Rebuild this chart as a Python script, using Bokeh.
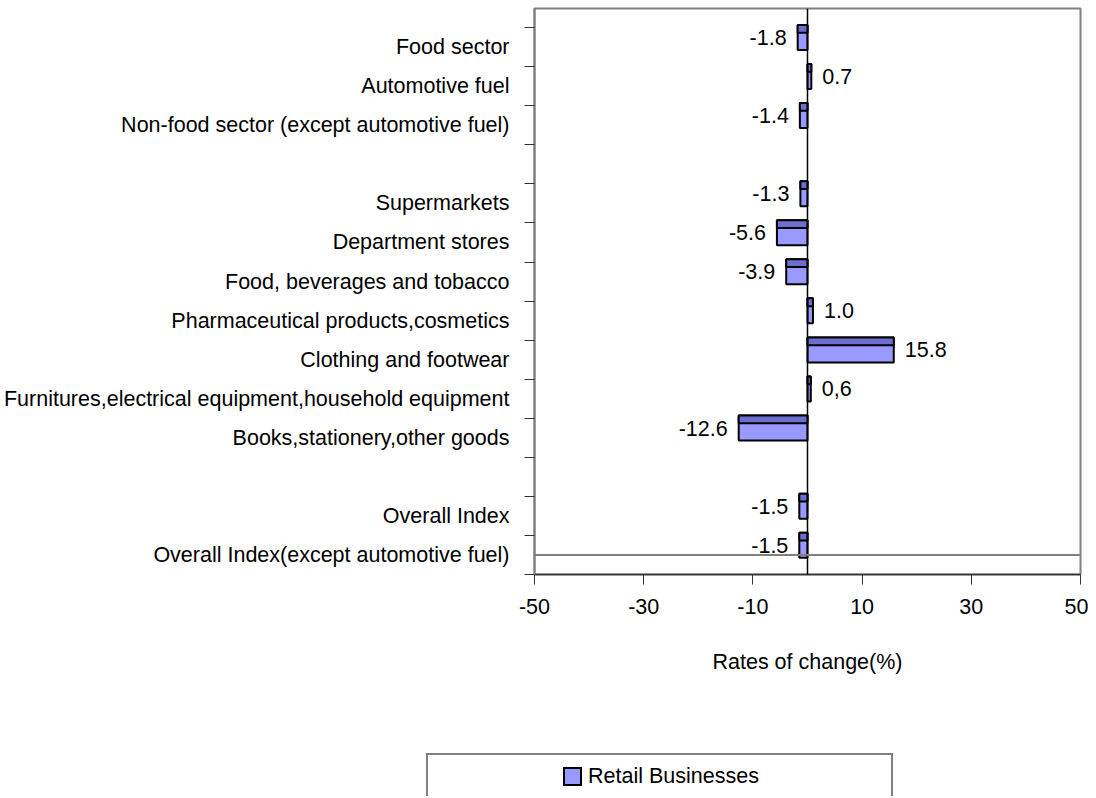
from bokeh.plotting import figure
from bokeh.layouts import column
from bokeh.models import Range1d, FixedTicker, Span, ColumnDataSource, Div
from bokeh.core.properties import value
from bokeh.embed import file_html
from bokeh.resources import INLINE

# ---- data ----
categories = ["Food sector", "Automotive fuel",
              "Non-food sector (except automotive fuel)",
              "Supermarkets", "Department stores",
              "Food, beverages and tobacco",
              "Pharmaceutical products,cosmetics",
              "Clothing and footwear",
              "Furnitures,electrical equipment,household equipment",
              "Books,stationery,other goods",
              "Overall Index", "Overall Index(except automotive fuel)"]
values = [-1.8, 0.7, -1.4, -1.3, -5.6, -3.9, 1.0, 15.8, 0.6, -12.6, -1.5, -1.5]
value_labels = ["-1.8", "0.7", "-1.4", "-1.3", "-5.6", "-3.9", "1.0", "15.8",
                "0,6", "-12.6", "-1.5", "-1.5"]
group_sizes = [3, 7, 2]
x_ticks = [-50, -30, -10, 10, 30, 50]
x_tick_labels = ["-50", "-30", "-10", "10", "30", "50"]
series_name = "Retail Businesses"
x_title = "Rates of change(%)"

FONT = "Liberation Sans"
FS = "21.5px"
BAR_FILL = "#9999FF"

# rows: groups separated by one empty row
rows = []
r = 0
for g in group_sizes:
    for _ in range(g):
        rows.append(r)
        r += 1
    r += 1
n_rows = r - 1  # 14

bar_c = [y - 0.25 for y in rows]
strip_c = [y - 0.25 - 0.32 + 0.1 for y in rows]

src = ColumnDataSource(dict(y=bar_c, ys=strip_c, v=values, lab=value_labels))

p = figure(width=1088, height=745, output_backend="svg", toolbar_location=None,
           x_range=Range1d(-50, 50), y_range=Range1d(n_rows - 0.5, -0.99),
           min_border_left=534, min_border_right=8, min_border_top=8,
           min_border_bottom=171)
p.grid.visible = False
p.outline_line_color = "#808080"
p.outline_line_width = 2
p.background_fill_color = "white"

bars = p.hbar(y="y", left=0, right="v", height=0.64, source=src,
              fill_color=BAR_FILL, line_color="black", line_width=2)
p.hbar(y="ys", left=0, right="v", height=0.2, source=src,
       fill_color="#6E6ED0", line_color="black", line_width=2)

p.add_layout(Span(location=0, dimension="height", line_color="black", line_width=1.5))
p.add_layout(Span(location=rows[-1], dimension="width", line_color="#808080", line_width=2))

neg = ColumnDataSource(dict(y=[b for b, v in zip(bar_c, values) if v < 0],
                            v=[v for v in values if v < 0],
                            lab=[l for l, v in zip(value_labels, values) if v < 0]))
pos = ColumnDataSource(dict(y=[b for b, v in zip(bar_c, values) if v >= 0],
                            v=[v for v in values if v >= 0],
                            lab=[l for l, v in zip(value_labels, values) if v >= 0]))
p.text(x="v", y="y", text="lab", source=neg, text_align="right", text_baseline="middle",
       x_offset=-11, text_font=value(FONT), text_font_size=FS, text_color="black")
p.text(x="v", y="y", text="lab", source=pos, text_align="left", text_baseline="middle",
       x_offset=11, text_font=value(FONT), text_font_size=FS, text_color="black")

# x axis
xa = p.xaxis[0]
xa.ticker = FixedTicker(ticks=x_ticks, minor_ticks=[])
xa.major_label_overrides = {t: l for t, l in zip(x_ticks, x_tick_labels)}
xa.axis_line_color = "#333333"
xa.axis_line_width = 1.5
xa.major_tick_line_color = "#333333"
xa.major_tick_out = 10
xa.major_tick_in = 0
xa.major_label_text_font = FONT
xa.major_label_text_font_size = FS
xa.major_label_text_color = "black"
xa.major_label_standoff = 14
xa.axis_label = x_title
xa.axis_label_text_font = FONT
xa.axis_label_text_font_size = FS
xa.axis_label_text_font_style = "normal"
xa.axis_label_text_color = "black"
xa.axis_label_standoff = 33

# y axis
ya = p.yaxis[0]
ya.ticker = FixedTicker(ticks=rows, minor_ticks=[i - 0.5 for i in range(n_rows + 1)])
ya.major_label_overrides = {row: c for row, c in zip(rows, categories)}
ya.major_tick_line_color = None
ya.major_tick_out = 0
ya.major_tick_in = 0
ya.minor_tick_line_color = "#333333"
ya.minor_tick_out = 10
ya.minor_tick_in = 0
ya.axis_line_color = "#808080"
ya.axis_line_width = 2
ya.major_label_text_font = FONT
ya.major_label_text_font_size = FS
ya.major_label_text_color = "black"
ya.major_label_standoff = 15

# legend strip below the chart
legend_html = f"""
<div style="position:relative;width:1088px;height:51px;overflow:hidden;margin:0;padding:0;">
  <div style="position:absolute;left:426px;top:8px;width:467px;height:80px;
              border:2px solid #808080;box-sizing:border-box;background:white;"></div>
  <div style="position:absolute;left:563px;top:22px;width:19px;height:19px;
              background:{BAR_FILL};border:2px solid black;box-sizing:border-box;"></div>
  <span style="position:absolute;left:588px;top:21px;font-family:'{FONT}';
               font-size:{FS};line-height:1;color:black;white-space:nowrap;">{series_name}</span>
</div>
"""
legend_div = Div(text=legend_html, width=1088, height=51, margin=0)

open("out.html", "w").write(file_html(column(p, legend_div, spacing=0), INLINE))
